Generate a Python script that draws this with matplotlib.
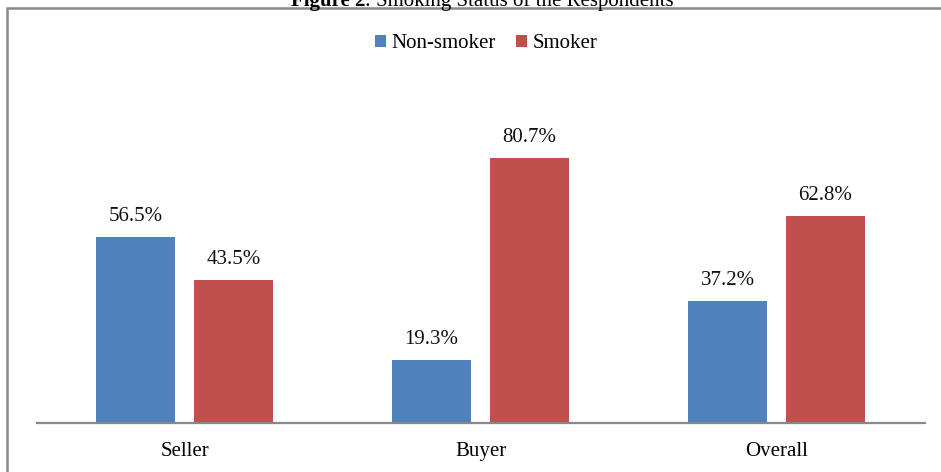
import numpy as np
import matplotlib
matplotlib.use('Agg')
from matplotlib import pyplot as plt
from matplotlib.patches import Rectangle

categories = ['Seller', 'Buyer', 'Overall']
non_smoker = [56.5, 19.3, 37.2]
smoker = [43.5, 80.7, 62.8]
series_names = ['Non-smoker', 'Smoker']
colors = ['#4F81BD', '#C0504D']

plt.rcParams['font.family'] = ['Liberation Serif', 'DejaVu Serif']

fig = plt.figure(figsize=(9.41, 4.72), dpi=100)
ax = fig.add_axes([36.5 / 941, 49 / 472, 888 / 941, 296 / 472])

x = np.arange(len(categories))
width = 79 / 296
offset = 49 / 296

for vals, name, col, sign in [(non_smoker, series_names[0], colors[0], -1),
                              (smoker, series_names[1], colors[1], 1)]:
    bars = ax.bar(x + sign * offset, vals, width, color=col, label=name)
    for b, v in zip(bars, vals):
        ax.annotate(f'{v:.1f}%', (b.get_x() + b.get_width() / 2, v),
                    xytext=(0, 11.5), textcoords='offset points',
                    ha='center', va='baseline', fontsize=15, color='#111111')

ax.set_xlim(-0.5, 2.5)
ax.set_ylim(0, 90)
ax.set_yticks([])
ax.set_xticks(x)
ax.set_xticklabels(categories, fontsize=15)
ax.tick_params(axis='x', length=0, pad=14)
for s in ['top', 'right', 'left']:
    ax.spines[s].set_visible(False)
ax.spines['bottom'].set_color('#888888')
ax.spines['bottom'].set_linewidth(1.6)

fig.legend(loc='center', bbox_to_anchor=(486 / 941, 1 - 44 / 472), ncol=2,
           frameon=False, fontsize=15, handlelength=0.53, handleheight=0.5,
           handletextpad=0.25, columnspacing=1.0, borderaxespad=0)

# outer border of the chart box
fig.patches.append(Rectangle((7 / 941, -0.1), 2, 1.1 - 8 / 472,
                             transform=fig.transFigure, fill=False,
                             edgecolor='#888888', linewidth=1.8))

# title, partly cut off at the top as in the source
fig.text(365 / 941, 1 - 6 / 472, 'Figure 2', fontsize=15,
         fontweight='bold', ha='right', va='baseline')
fig.text(365 / 941, 1 - 6 / 472, ': Smoking Status of the Respondents',
         fontsize=15, ha='left', va='baseline')

fig.savefig('out.png', dpi=100)
